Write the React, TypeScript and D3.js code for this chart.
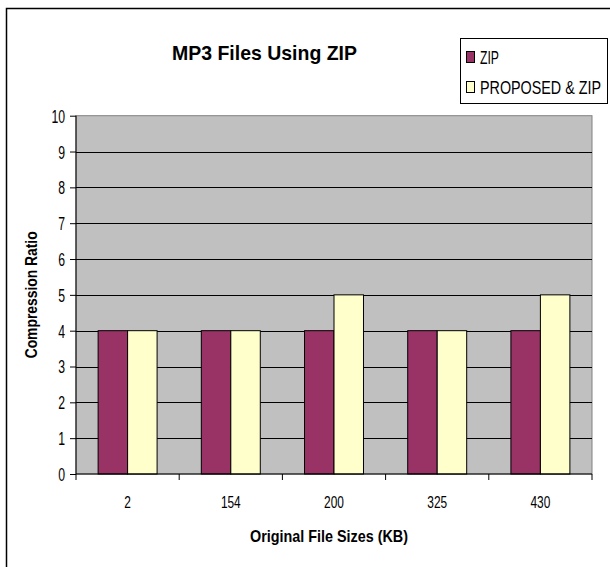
import React, { useEffect, useRef } from "react";
import * as d3 from "d3";

const categories = ["2", "154", "200", "325", "430"];
const zipValues = [4, 4, 4, 4, 4];
const proposedValues = [4, 4, 5, 4, 5];
const seriesNames = ["ZIP", "PROPOSED & ZIP"];
const seriesColors = ["#993366", "#FFFFCC"];
const yTicks = [0, 1, 2, 3, 4, 5, 6, 7, 8, 9, 10];

const W = 610;
const H = 567;
const FONT = "'Liberation Sans', Arial, sans-serif";

export default function App() {
  const ref = useRef<SVGSVGElement | null>(null);

  useEffect(() => {
    const svg = d3.select(ref.current);
    svg.selectAll("*").remove();

    // squeeze a text element horizontally to a given width
    const fit = (sel: any, width: number | null, factor = 0.78) => {
      sel.each(function (this: SVGTextElement) {
        const natural = this.getComputedTextLength();
        const target = width ?? natural * factor;
        d3.select(this).attr("textLength", target).attr("lengthAdjust", "spacingAndGlyphs");
      });
    };

    // chart frame
    svg.append("rect")
      .attr("x", 6.5).attr("y", 8.5).attr("width", 640).attr("height", 600)
      .attr("fill", "#fff").attr("stroke", "#000").attr("stroke-width", 1.5);

    const plot = { left: 76, right: 592, top: 115.7, bottom: 474 };

    const x = d3.scaleBand<string>().domain(categories).range([plot.left, plot.right]).paddingInner(0).paddingOuter(0);
    const y = d3.scaleLinear().domain([0, 10]).range([plot.bottom, plot.top]);

    // plot background
    svg.append("rect")
      .attr("x", plot.left).attr("y", plot.top)
      .attr("width", plot.right - plot.left).attr("height", plot.bottom - plot.top)
      .attr("fill", "#C0C0C0").attr("stroke", "#808080").attr("stroke-width", 1);

    // gridlines
    svg.append("g").selectAll("line").data(yTicks.filter((t) => t > 0 && t < 10)).join("line")
      .attr("x1", plot.left).attr("x2", plot.right)
      .attr("y1", (d) => Math.round(y(d)) + 0.5).attr("y2", (d) => Math.round(y(d)) + 0.5)
      .attr("stroke", "#000").attr("stroke-width", 1);

    // bars
    const bw = x.bandwidth() / (2 + 1.5);
    const gap = (x.bandwidth() - 2 * bw) / 2;
    const series = [zipValues, proposedValues];
    series.forEach((vals, si) => {
      svg.append("g").selectAll("rect").data(categories).join("rect")
        .attr("x", (c) => (x(c) as number) + gap + si * bw)
        .attr("y", (c, i) => y(vals[i]))
        .attr("width", bw)
        .attr("height", (c, i) => y(0) - y(vals[i]))
        .attr("fill", seriesColors[si])
        .attr("stroke", "#000").attr("stroke-width", 1);
    });

    // y axis
    const yAxis = svg.append("g").attr("transform", `translate(${plot.left},0)`)
      .call(d3.axisLeft(y).tickValues(yTicks).tickSize(6).tickPadding(5).tickFormat(d3.format("d")));
    yAxis.select(".domain").attr("stroke", "#000").attr("d", `M0,${plot.top}V${plot.bottom}`);
    yAxis.selectAll(".tick line").attr("stroke", "#000");
    yAxis.selectAll("text").attr("font-family", FONT).attr("font-size", 18).attr("fill", "#000").attr("dy", "0.36em");
    fit(yAxis.selectAll("text"), null, 0.68);

    // x axis
    const xAxis = svg.append("g").attr("transform", `translate(0,${plot.bottom})`)
      .call(d3.axisBottom(x).tickSize(0).tickPadding(0));
    xAxis.select(".domain").attr("stroke", "#000").attr("d", `M${plot.left},0H${plot.right}`);
    xAxis.selectAll(".tick text").attr("font-family", FONT).attr("font-size", 17).attr("fill", "#000").attr("y", 34).attr("dy", 0);
    fit(xAxis.selectAll(".tick text"), null, 0.7);
    // ticks at the category boundaries
    const bounds = categories.map((c) => x(c) as number).concat([plot.right]);
    xAxis.append("g").selectAll("line").data(bounds).join("line")
      .attr("x1", (d) => d).attr("x2", (d) => d).attr("y1", 0).attr("y2", 6)
      .attr("stroke", "#000");

    // title
    const title = svg.append("text").attr("x", 172).attr("y", 60)
      .attr("font-family", FONT).attr("font-weight", "bold").attr("font-size", 21)
      .text("MP3 Files Using ZIP");
    fit(title, 185);

    // axis titles
    const xt = svg.append("text").attr("x", 250).attr("y", 542)
      .attr("font-family", FONT).attr("font-weight", "bold").attr("font-size", 17)
      .text("Original File Sizes (KB)");
    fit(xt, 158);

    const yt = svg.append("text")
      .attr("transform", `translate(37,${(plot.top + plot.bottom) / 2 + 63.5}) rotate(-90)`)
      .attr("font-family", FONT).attr("font-weight", "bold").attr("font-size", 17)
      .text("Compression Ratio");
    fit(yt, 127);

    // legend
    const lg = svg.append("g");
    lg.append("rect").attr("x", 460.5).attr("y", 38.5).attr("width", 147).attr("height", 65)
      .attr("fill", "#fff").attr("stroke", "#000").attr("stroke-width", 1);
    const legendRows = [
      { name: seriesNames[0], color: seriesColors[0], y: 64, w: 19 },
      { name: seriesNames[1], color: seriesColors[1], y: 94, w: 121 },
    ];
    legendRows.forEach((r) => {
      lg.append("rect").attr("x", 466.5).attr("y", r.y - 12.5).attr("width", 8).attr("height", 11)
        .attr("fill", r.color).attr("stroke", "#000").attr("stroke-width", 1);
      const t = lg.append("text").attr("x", 480).attr("y", r.y)
        .attr("font-family", FONT).attr("font-size", 18).text(r.name);
      fit(t, r.w);
    });
  }, []);

  return (
    <svg ref={ref} width={W} height={H} style={{ position: "absolute", left: 0, top: 0, background: "#fff" }} />
  );
}
